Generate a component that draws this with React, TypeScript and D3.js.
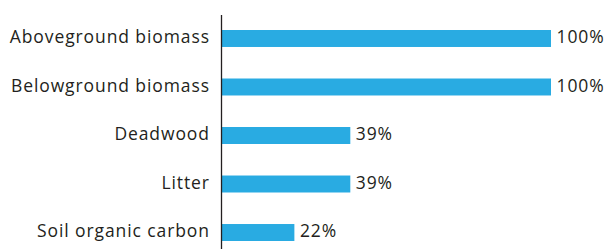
import React from "react";
import { scaleBand, scaleLinear } from "d3";

const categories = [
  "Aboveground biomass",
  "Belowground biomass",
  "Deadwood",
  "Litter",
  "Soil organic carbon",
];
const values = [100, 100, 39, 39, 22];

const W = 606;
const H = 249;
const margin = { top: 30, right: 55, bottom: 8, left: 222 };
const font = "'Open Sans', Lato, sans-serif";
const fontSize = 17.5;
const spacing = 0.9;
const textColor = "#231f20";
const barColor = "#29abe2";

const App = () => {
  const x = scaleLinear()
    .domain([0, 100])
    .range([margin.left, W - margin.right]);

  const y = scaleBand()
    .domain(categories)
    .range([margin.top, H - margin.bottom])
    .paddingInner(0.65)
    .paddingOuter(0);

  const mid = (c: string) => (y(c) ?? 0) + y.bandwidth() / 2;

  return (
    <svg
      width={W}
      height={H}
      style={{ position: "absolute", left: 0, top: 0, background: "#fff" }}
    >
      {/* bars */}
      {categories.map((c, i) => (
        <rect
          key={c}
          x={x(0)}
          y={y(c)}
          width={x(values[i]) - x(0)}
          height={y.bandwidth()}
          fill={barColor}
        />
      ))}

      {/* axis line */}
      <line
        x1={x(0) - 0.5}
        x2={x(0) - 0.5}
        y1={15}
        y2={H}
        stroke={textColor}
        strokeWidth={1.3}
      />

      {/* category labels */}
      {categories.map((c) => (
        <text
          key={"l" + c}
          x={x(0) - 13 + spacing}
          y={mid(c) + 4.8}
          textAnchor="end"
          fontFamily={font}
          fontSize={fontSize}
          letterSpacing={spacing}
          fill={textColor}
        >
          {c}
        </text>
      ))}

      {/* value labels */}
      {categories.map((c, i) => (
        <text
          key={"v" + c}
          x={x(values[i]) + 5.5}
          y={mid(c) + 4.8}
          fontFamily={font}
          fontSize={fontSize}
          letterSpacing={spacing}
          fill={textColor}
        >
          {values[i]}%
        </text>
      ))}
    </svg>
  );
};

export default App;
